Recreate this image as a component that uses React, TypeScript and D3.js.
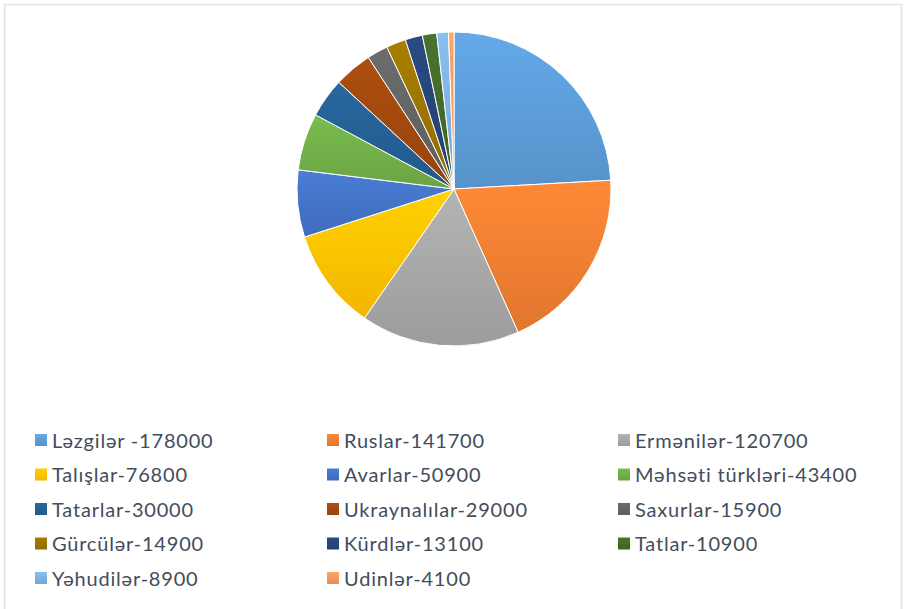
import React from "react";
import * as d3 from "d3";

const categories = [
  "Ləzgilər -178000",
  "Ruslar-141700",
  "Ermənilər-120700",
  "Talışlar-76800",
  "Avarlar-50900",
  "Məhsəti türkləri-43400",
  "Tatarlar-30000",
  "Ukraynalılar-29000",
  "Saxurlar-15900",
  "Gürcülər-14900",
  "Kürdlər-13100",
  "Tatlar-10900",
  "Yəhudilər-8900",
  "Udinlər-4100",
];
const values = [178000, 141700, 120700, 76800, 50900, 43400, 30000, 29000, 15900, 14900, 13100, 10900, 8900, 4100];
const colors = [
  "#5B9BD5", "#ED7D31", "#A5A5A5", "#FFC000", "#4472C4", "#70AD47",
  "#255E91", "#9E480E", "#636363", "#997300", "#264478", "#43682B",
  "#7CAFDD", "#F1975A",
];

const W = 905;
const H = 609;
const cx = 454;
const cy = 189;
const R = 157;

export default function App() {
  const pie = d3.pie<number>().sort(null).value((d) => d)(values);
  const arc = d3.arc<d3.PieArcDatum<number>>().innerRadius(0).outerRadius(R);
  const colX = [35, 327, 618];
  const rowY0 = 434;
  const rowStep = 34.5;
  return (
    <svg width={W} height={H} style={{ position: "absolute", left: 0, top: 0, background: "#fff" }}>
      <defs>
        {colors.map((c, i) => {
          const top = d3.color(c)!.brighter(0.25).formatHex();
          const bot = d3.color(c)!.darker(0.15).formatHex();
          return (
            <linearGradient key={i} id={`g${i}`} x1="0" y1="0" x2="0" y2="1">
              <stop offset="0" stopColor={top} />
              <stop offset="1" stopColor={bot} />
            </linearGradient>
          );
        })}
      </defs>
      <rect x={4.5} y={4.5} width={897} height={H + 10} fill="#fff" stroke="#dfe3ea" strokeWidth={1.5} />
      <g transform={`translate(${cx},${cy})`}>
        {pie.map((p, i) => (
          <path key={i} d={arc(p) || ""} fill={`url(#g${i})`} stroke="#fff" strokeWidth={1} />
        ))}
      </g>
      <g fontFamily="Lato, 'Open Sans', sans-serif" fontSize={20} fill="#434d5c" letterSpacing={0.8}>
        {categories.map((c, i) => {
          const col = i % 3;
          const row = Math.floor(i / 3);
          const x = colX[col];
          const y = rowY0 + row * rowStep;
          return (
            <g key={i}>
              <rect x={x} y={y} width={12} height={12} fill={`url(#g${i})`} />
              <text x={x + 17} y={y + 5.5} dominantBaseline="central">{c}</text>
            </g>
          );
        })}
      </g>
    </svg>
  );
}
